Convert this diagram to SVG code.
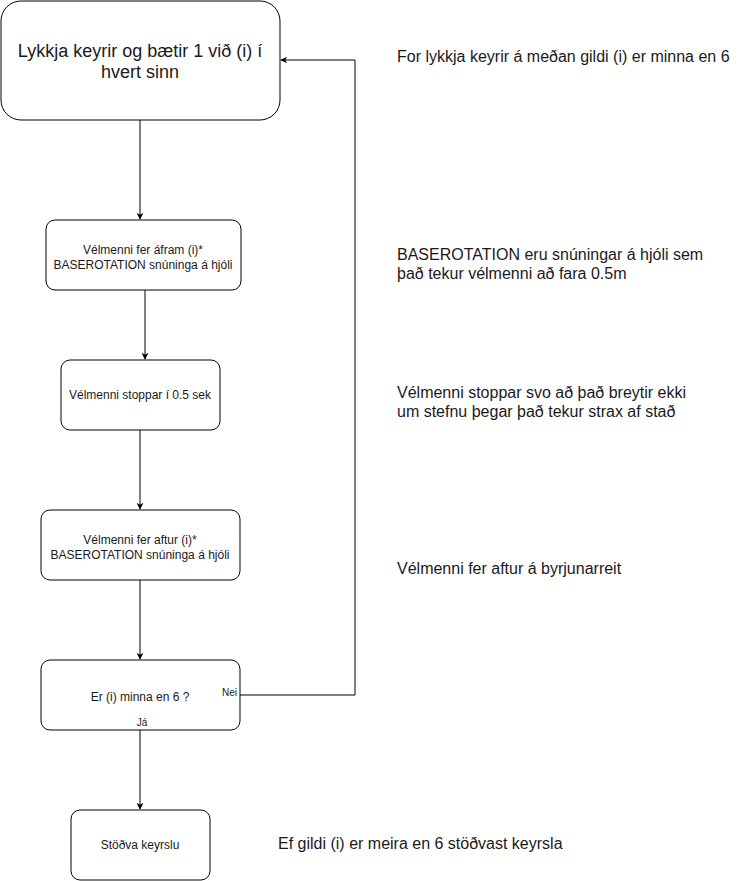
<svg xmlns="http://www.w3.org/2000/svg" width="746" height="881" viewBox="0 0 746 881">
<defs>
<style>
.box{fill:#fff;stroke:#000;stroke-width:1}
.t{font-family:"Liberation Sans",Arial,sans-serif;fill:#1a1a1a}
.c{text-anchor:middle}
.edge{fill:none;stroke:#000;stroke-width:1}
</style>
<marker id="arr" viewBox="0 0 10 10" refX="9" refY="5" markerWidth="7" markerHeight="7" orient="auto" markerUnits="userSpaceOnUse">
<path d="M0,0 L10,5 L0,10 L3,5 Z" fill="#000"/>
</marker>
</defs>
<rect width="746" height="881" fill="#fff"/>
<g id="connectors">
<path class="edge" d="M140,120 V219" marker-end="url(#arr)"/>
<path class="edge" d="M145,290 V359" marker-end="url(#arr)"/>
<path class="edge" d="M140,430 V509" marker-end="url(#arr)"/>
<path class="edge" d="M140,580 V659" marker-end="url(#arr)"/>
<path class="edge" d="M140,730 V809" marker-end="url(#arr)"/>
<path class="edge" d="M240,695 H355 V60 H281" marker-end="url(#arr)"/>
</g>
<g id="n1">
<rect class="box" x="1" y="1" width="279" height="119" rx="20"/>
<text class="t c" x="140" y="56.5" font-size="18">Lykkja keyrir og bætir 1 við (i) í</text>
<text class="t c" x="140" y="78" font-size="18">hvert sinn</text>
</g>
<g id="n2">
<rect class="box" x="46" y="220" width="195" height="70" rx="9"/>
<text class="t c" x="143" y="254" font-size="12">Vélmenni fer áfram (i)*</text>
<text class="t c" x="143" y="268.5" font-size="12">BASEROTATION snúninga á hjóli</text>
</g>
<g id="n3">
<rect class="box" x="61" y="360" width="159" height="70" rx="9"/>
<text class="t c" x="140" y="399" font-size="12">Vélmenni stoppar í 0.5 sek</text>
</g>
<g id="n4">
<rect class="box" x="41" y="510" width="199" height="70" rx="9"/>
<text class="t c" x="140" y="544" font-size="12">Vélmenni fer aftur (i)*</text>
<text class="t c" x="140" y="558.5" font-size="12">BASEROTATION snúninga á hjóli</text>
</g>
<g id="n5">
<rect class="box" x="41" y="660" width="199" height="70" rx="9"/>
<text class="t c" x="140" y="701" font-size="12">Er (i) minna en 6 ?</text>
<text class="t" x="222" y="696" font-size="10">Nei</text>
<text class="t c" x="142" y="726" font-size="10">Já</text>
</g>
<g id="n6">
<rect class="box" x="71" y="810" width="139" height="70" rx="9"/>
<text class="t c" x="140" y="849" font-size="12">Stöðva keyrslu</text>
</g>
<g id="notes" font-size="16">
<text class="t" x="397" y="62">For lykkja keyrir á meðan gildi (i) er minna en 6</text>
<text class="t" x="397" y="259.5">BASEROTATION eru snúningar á hjóli sem</text>
<text class="t" x="397" y="278.5">það tekur vélmenni að fara 0.5m</text>
<text class="t" x="397" y="397.5">Vélmenni stoppar svo að það breytir ekki</text>
<text class="t" x="397" y="416.5">um stefnu þegar það tekur strax af stað</text>
<text class="t" x="397" y="574">Vélmenni fer aftur á byrjunarreit</text>
<text class="t" x="278" y="849">Ef gildi (i) er meira en 6 stöðvast keyrsla</text>
</g>
</svg>
